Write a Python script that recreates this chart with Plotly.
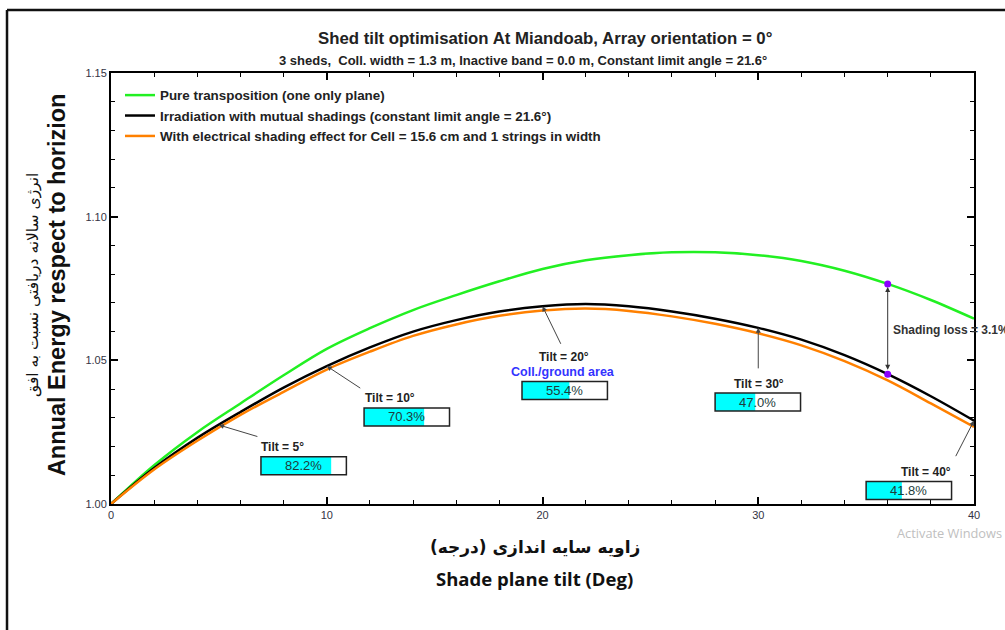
import numpy as np
import plotly.graph_objects as go

# ---------------- data ----------------
tilt = [0, 2, 4, 6, 8, 10, 12, 14, 16, 18, 20, 22, 24, 26, 28, 30, 32, 34, 36, 38, 40]
pure_transposition = [1.000, 1.0135, 1.0250, 1.0350, 1.0448, 1.0540, 1.0612, 1.0675, 1.0727, 1.0775, 1.0818,
                      1.0848, 1.0866, 1.0876, 1.0876, 1.0866, 1.0846, 1.0812, 1.0766, 1.0710, 1.0645]
mutual_shadings = [1.000, 1.0125, 1.023, 1.032, 1.0405, 1.048, 1.0545, 1.060, 1.064, 1.067, 1.0688,
                   1.0696, 1.0688, 1.067, 1.0645, 1.0613, 1.0572, 1.0518, 1.0452, 1.0375, 1.029]
electrical_shading = [1.000, 1.012, 1.022, 1.031, 1.039, 1.0468, 1.053, 1.0585, 1.0625, 1.0655, 1.0673,
                      1.068, 1.0672, 1.0653, 1.0627, 1.0594, 1.0552, 1.0497, 1.043, 1.035, 1.0268]

marked_tilts = [5, 10, 20, 30, 40]
coll_ground_ratio = [82.2, 70.3, 55.4, 47.0, 41.8]

loss_tilt = 36
shading_loss_label = "Shading loss = 3.1%"

x_ticks = [0, 10, 20, 30, 40]
y_ticks = [1.00, 1.05, 1.10, 1.15]

series_names = [
    "Pure transposition (one only plane)",
    "Irradiation with mutual shadings (constant limit angle = 21.6°)",
    "With electrical shading effect for Cell = 15.6 cm and 1 strings in width",
]

# ---------------- styling / layout positions ----------------
FONT = "Liberation Sans, Arial, sans-serif"
TXT = "#222222"
GREEN = "#22f022"
ORANGE = "#ff8000"

# label layout: (text x, text y, box x0, box y-center, arrow ax, arrow ay) in data units / px offsets
label_layout = [
    (7.97, 1.0198, 6.95, 1.0133, 40, 12),
    (12.93, 1.0369, 11.73, 1.0303, 35, 23),
    (21.0, 1.0512, 19.05, 1.0395, 19, 39),
    (30.03, 1.0418, 28.0, 1.0355, 0, 42),
    (37.78, 1.0111, 35.0, 1.0047, -19, 37),
]
BOX_W = 3.96     # deg
BOX_H = 0.0063   # energy units

fig = go.Figure()

for yvals, color, name in zip([pure_transposition, mutual_shadings, electrical_shading],
                              [GREEN, "#000000", ORANGE], series_names):
    fig.add_trace(go.Scatter(x=tilt, y=yvals, mode="lines", line=dict(color=color, width=2.5),
                             line_shape="spline", name=f"<b>{name}</b>"))

g36 = float(np.interp(loss_tilt, tilt, pure_transposition))
b36 = float(np.interp(loss_tilt, tilt, mutual_shadings))
fig.add_trace(go.Scatter(x=[loss_tilt, loss_tilt], y=[g36, b36], mode="markers",
                         marker=dict(color="#8b00ff", size=7), showlegend=False))

annotations = []
shapes = []


def ann(**kw):
    kw.setdefault("xanchor", "center")
    kw.setdefault("yanchor", "middle")
    annotations.append(kw)


for t, r, (tx, ty, bx, by, ax, ay) in zip(marked_tilts, coll_ground_ratio, label_layout):
    hy = float(np.interp(t, tilt, mutual_shadings))
    # arrow
    annotations.append(dict(x=t, y=hy, xref="x", yref="y", text="", showarrow=True,
                            ax=ax, ay=ay, arrowhead=2, arrowsize=1, arrowwidth=1, arrowcolor="#444444"))
    # Tilt label
    ann(x=tx, y=ty, xref="x", yref="y", text=f"<b>Tilt = {t}°</b>", showarrow=False,
        font=dict(family=FONT, size=12, color=TXT))
    # ratio box
    y0, y1 = by - BOX_H / 2, by + BOX_H / 2
    shapes.append(dict(type="rect", xref="x", yref="y", x0=bx, x1=bx + BOX_W, y0=y0, y1=y1,
                       fillcolor="white", line=dict(width=0)))
    shapes.append(dict(type="rect", xref="x", yref="y", x0=bx, x1=bx + BOX_W * r / 100, y0=y0, y1=y1,
                       fillcolor="#00ffff", line=dict(width=0)))
    shapes.append(dict(type="rect", xref="x", yref="y", x0=bx, x1=bx + BOX_W, y0=y0, y1=y1,
                       fillcolor="rgba(0,0,0,0)", line=dict(color="#222222", width=1.5)))
    ann(x=bx + BOX_W / 2, y=by, xref="x", yref="y", text=f"{r:.1f}%", showarrow=False,
        font=dict(family=FONT, size=13, color="#1e3c3c"))

ann(x=20.95, y=1.0459, xref="x", yref="y", text="<b>Coll./ground area</b>", showarrow=False,
    font=dict(family=FONT, size=12.5, color="#3333ff"))

# shading loss double arrow
annotations.append(dict(x=loss_tilt, y=g36, ax=loss_tilt, ay=b36, xref="x", yref="y", axref="x", ayref="y",
                        text="", showarrow=True, arrowhead=2, startarrowhead=2, arrowside="end+start",
                        arrowsize=1, arrowwidth=1, arrowcolor="#333333", standoff=3, startstandoff=3))
ann(x=36.15, y=1.0606, xref="x", yref="y", text=f"<b>{shading_loss_label}</b>", showarrow=False,
    xanchor="left", font=dict(family=FONT, size=12, color="#333333"))

# titles
ann(x=0.503, y=1.081, xref="paper", yref="paper", showarrow=False,
    text="<b>Shed tilt optimisation At Miandoab, Array orientation = 0°</b>",
    font=dict(family=FONT, size=16.8, color=TXT))
ann(x=0.477, y=1.030, xref="paper", yref="paper", showarrow=False,
    text="<b>3 sheds,  Coll. width = 1.3 m, Inactive band = 0.0 m, Constant limit angle = 21.6°</b>",
    font=dict(family=FONT, size=13, color=TXT))

# axis titles
ann(x=0.491, y=-0.102, xref="paper", yref="paper", showarrow=False,
    text="<b>زاویه سایه اندازی (درجه)</b>",
    font=dict(family="DejaVu Sans, sans-serif", size=17, color="#111111"))
ann(x=0.491, y=-0.172, xref="paper", yref="paper", showarrow=False,
    text="<b>Shade plane tilt (Deg)</b>",
    font=dict(family="Open Sans, sans-serif", size=18.5, color="#111111"))
ann(x=-0.0904, y=0.508, xref="paper", yref="paper", showarrow=False, textangle=-90,
    text="انرژی سالانه دریافتی نسبت به افق",
    font=dict(family="DejaVu Sans, sans-serif", size=15.5, color="#111111"))
ann(x=-0.0625, y=0.508, xref="paper", yref="paper", showarrow=False, textangle=-90,
    text="<b>Annual Energy respect to horizion</b>",
    font=dict(family=FONT, size=23.5, color="#111111"))

ann(x=0.9085, y=-0.0673, xref="paper", yref="paper", showarrow=False, xanchor="left",
    text="Activate Windows", font=dict(family="Open Sans, sans-serif", size=12.8, color="#c0c0c0"))

# outer frame
shapes.append(dict(type="line", xref="paper", yref="paper", x0=-0.1205, x1=1.2, y0=1.146, y1=1.146,
                   line=dict(color="#111111", width=2.5)))
shapes.append(dict(type="line", xref="paper", yref="paper", x0=-0.1205, x1=-0.1205, y0=1.146, y1=-0.4,
                   line=dict(color="#111111", width=2.5)))

axis_common = dict(showgrid=False, zeroline=False, showline=True, linecolor="#000000", linewidth=2,
                   mirror="ticks", ticks="inside", ticklen=7, tickwidth=1.5, tickcolor="#000000",
                   tickfont=dict(family=FONT, size=11, color="#333344"))

fig.update_xaxes(range=[0, 40], tickvals=x_ticks, ticktext=[str(v) for v in x_ticks],
                 minor=dict(dtick=2, ticks="inside", ticklen=4, tickcolor="#000000", tickwidth=1),
                 **axis_common)
fig.update_yaxes(range=[1.0, 1.15], tickvals=y_ticks, ticktext=[f"{v:.2f}" for v in y_ticks],
                 minor=dict(dtick=0.01, ticks="inside", ticklen=4, tickcolor="#000000", tickwidth=1),
                 **axis_common)

fig.update_layout(
    width=1005, height=630,
    margin=dict(l=111, r=31, t=73, b=126),
    paper_bgcolor="white", plot_bgcolor="white",
    showlegend=True,
    legend=dict(x=0.0104, y=0.984, xanchor="left", yanchor="top", bgcolor="rgba(0,0,0,0)",
                font=dict(family=FONT, size=13.4, color=TXT), tracegroupgap=0),
    annotations=annotations, shapes=shapes,
)

fig.write_html("out.html", config={"displayModeBar": False},
               post_script="document.body.style.margin='0px';")
